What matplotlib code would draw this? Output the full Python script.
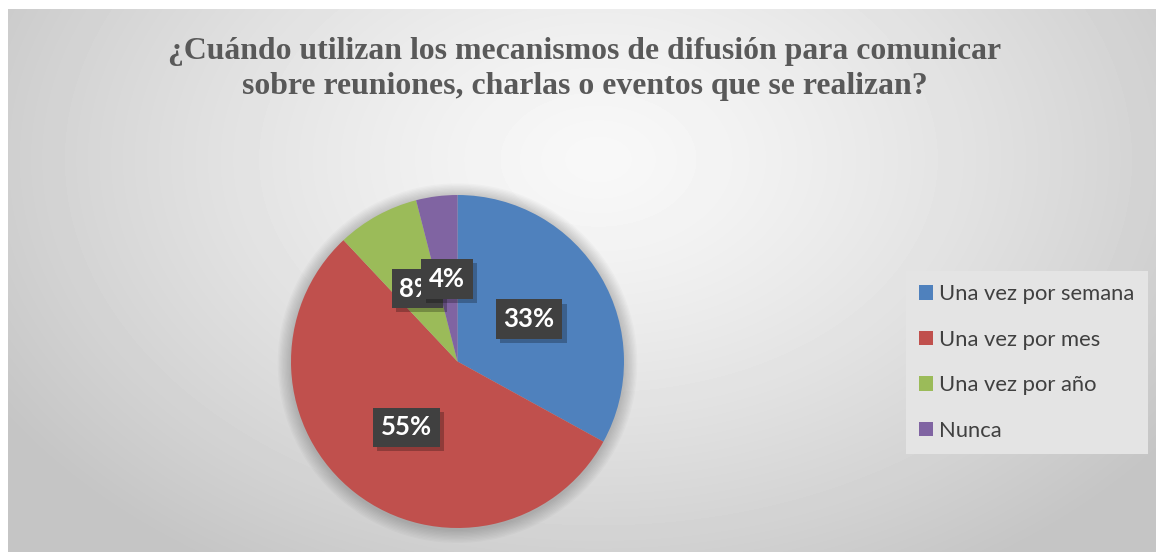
import numpy as np
import matplotlib
matplotlib.use("Agg")
import matplotlib.pyplot as plt
from matplotlib.patches import Patch, Circle
from matplotlib import patheffects

# -----------------------------
# Data
# -----------------------------
categories = ["Una vez por semana", "Una vez por mes", "Una vez por año", "Nunca"]
values = [33, 55, 8, 4]
colors = ["#4f81bd", "#c0504d", "#9bbb59", "#8064a2"]
title = "¿Cuándo utilizan los mecanismos de difusión para comunicar\nsobre reuniones, charlas o eventos que se realizan?"

W, H = 1156, 552
fig = plt.figure(figsize=(W / 100, H / 100), dpi=100)
fig.patch.set_facecolor("white")

# -----------------------------
# Background (radial gray gradient)
# -----------------------------
bx0, by_top = 8, 9
bg_w, bg_h = W - bx0, H - by_top
bg = fig.add_axes([bx0 / W, 0, bg_w / W, bg_h / H])
yy, xx = np.mgrid[0:bg_h, 0:bg_w]
r = np.sqrt(((xx - 590) / 700.0) ** 2 + ((yy - 150) / 480.0) ** 2)
shade = 248 - (248 - 197) * np.clip(r, 0, 1) ** 1.3
bg.imshow(shade, cmap="gray", vmin=0, vmax=255, aspect="auto", interpolation="bilinear")
bg.axis("off")

# -----------------------------
# Pie
# -----------------------------
cx, cy, rad = 457.5, 361.5, 166.5
half = rad * 1.1
ax = fig.add_axes([(cx - half) / W, (H - cy - half) / H, 2 * half / W, 2 * half / H])
ax.axis("off")

# soft shadow around the pie
for i in range(10):
    ax.add_patch(Circle((0.0, -0.01), 1.0 + 0.008 * (i + 1), color="black",
                        alpha=0.02, lw=0, zorder=0))

wedges, texts, autotexts = ax.pie(
    values, colors=colors, startangle=90, counterclock=False,
    autopct="%1.0f%%", pctdistance=0.5,
    wedgeprops=dict(linewidth=0), frame=False,
    textprops=dict(color="white", fontsize=18.5, fontweight="bold", family=["Lato", "DejaVu Sans"]),
)
for w in wedges:
    w.set_zorder(1)
for t in autotexts:
    t.set_bbox(dict(boxstyle="square,pad=0.3", facecolor="#404040", edgecolor="none"))
    t.get_bbox_patch().set_path_effects([patheffects.withSimplePatchShadow(offset=(3, -3), alpha=0.25, shadow_rgbFace="black")])
    t.set_zorder(5)
ax.set_xlim(-1.1, 1.1)
ax.set_ylim(-1.1, 1.1)

# -----------------------------
# Title
# -----------------------------
fig.text(585 / W, 1 - 69 / H, title, ha="center", va="center", multialignment="center",
         fontsize=22.9, fontweight="bold", color="#595959", family="Liberation Serif",
         linespacing=1.28)

# -----------------------------
# Legend
# -----------------------------
handles = [Patch(facecolor=c, edgecolor="none") for c in colors]
leg = fig.legend(handles, categories, loc="upper left",
                 bbox_to_anchor=(906 / W, 1 - 271 / H), bbox_transform=fig.transFigure,
                 frameon=True, fancybox=False, labelcolor="#404040",
                 handlelength=0.64, handleheight=0.64, handletextpad=0.27,
                 labelspacing=1.16, borderpad=0.6, borderaxespad=0,
                 prop=dict(family="Lato", size=15.8))
leg.get_frame().set_facecolor("#e4e4e4")
leg.get_frame().set_edgecolor("none")
leg.get_frame().set_alpha(1)

fig.savefig("out.png", dpi=100)
